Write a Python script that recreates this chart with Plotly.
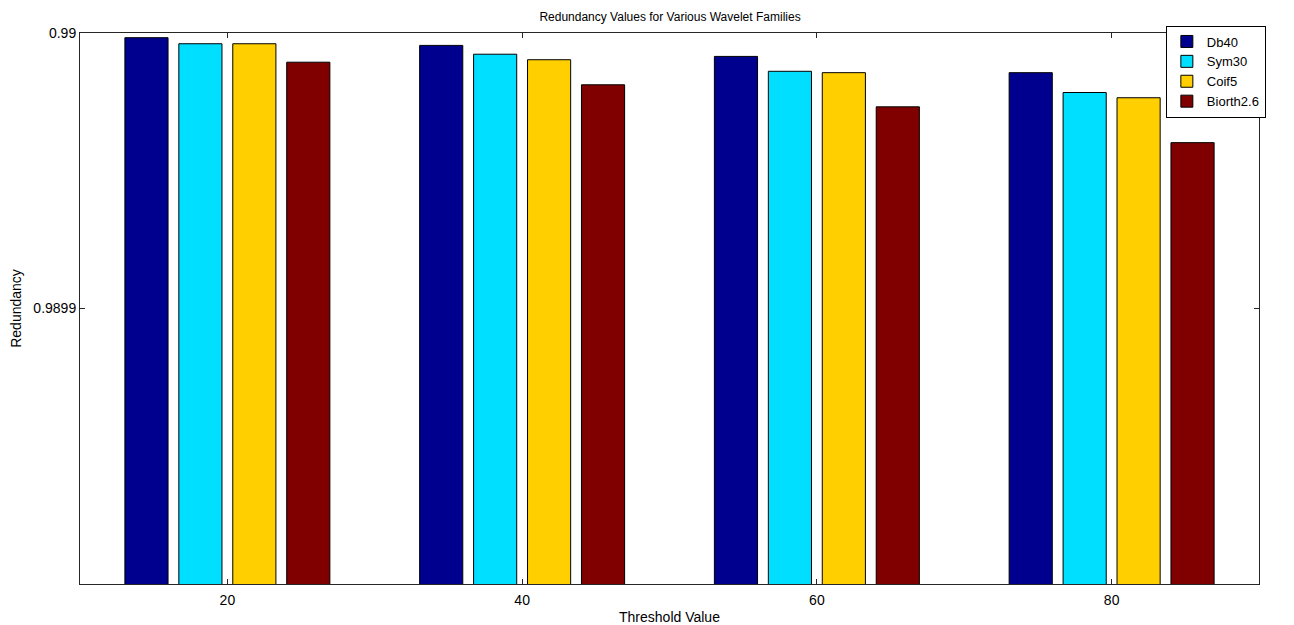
import plotly.graph_objects as go

thresholds = [20, 40, 60, 80]
series_names = ["Db40", "Sym30", "Coif5", "Biorth2.6"]
db40 = [0.9899983, 0.9899955, 0.9899915, 0.9899856]
sym30 = [0.9899961, 0.9899923, 0.9899861, 0.9899784]
coif5 = [0.9899961, 0.9899903, 0.9899856, 0.9899765]
biorth26 = [0.9899894, 0.9899812, 0.9899732, 0.9899602]
colors = ["#00008F", "#00DFFF", "#FFCF00", "#800000"]
ytick_vals = [0.9899, 0.99]
ytick_text = ["0.9899", "0.99"]

fig = go.Figure()
for name, vals, c in zip(series_names, [db40, sym30, coif5, biorth26], colors):
    fig.add_trace(go.Bar(
        x=thresholds, y=vals, name=name,
        marker=dict(color=c, line=dict(color="#000000", width=1)),
    ))

font = "Liberation Sans, Arial, sans-serif"
fig.update_layout(
    width=1286, height=617,
    margin=dict(l=72, r=35, t=25, b=41, autoexpand=False),
    paper_bgcolor="white", plot_bgcolor="white",
    barmode="group", bargap=0.268, bargroupgap=0.2,
    font=dict(family=font, size=14, color="#000000"),
    title=dict(text="Redundancy Values for Various Wavelet Families",
               x=0.5148, xanchor="center", y=0.985, yanchor="middle",
               font=dict(size=12, family=font)),
    showlegend=True,
    legend=dict(x=0.921, xanchor="left", y=1.0136, yanchor="top",
                bgcolor="white", bordercolor="#000000", borderwidth=1,
                font=dict(size=13, family=font), tracegroupgap=0,
                itemwidth=30),
    xaxis=dict(range=[10, 90], tickvals=thresholds, ticktext=[str(t) for t in thresholds],
               showline=True, linecolor="#262626", linewidth=1, mirror="ticks",
               ticks="inside", ticklen=5, tickcolor="#262626",
               showgrid=False, zeroline=False, automargin=False,
               ticklabelstandoff=3, tickfont=dict(size=14),
               title=dict(text="Threshold Value", standoff=5, font=dict(size=14))),
    yaxis=dict(range=[0.9898, 0.99], tickvals=ytick_vals, ticktext=ytick_text,
               showline=True, linecolor="#262626", linewidth=1, mirror="ticks",
               ticks="inside", ticklen=5, tickcolor="#262626",
               showgrid=False, zeroline=False, automargin=False,
               tickfont=dict(size=14),
               title=dict(text="Redundancy", standoff=10, font=dict(size=14))),
)
fig.write_html("out.html")
